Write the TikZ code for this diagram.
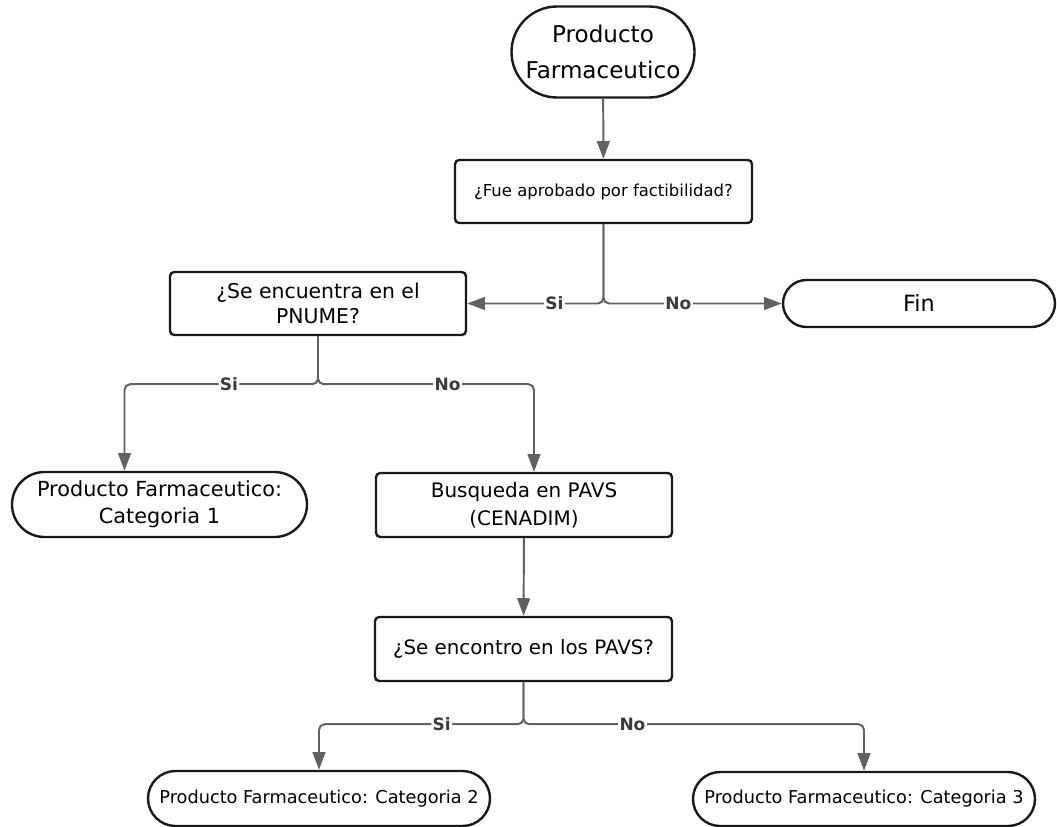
\documentclass[tikz,border=0pt]{standalone}
\usepackage{fontspec}
\setmainfont{DejaVu Sans}
\usetikzlibrary{shapes.misc, arrows.meta, positioning, calc}
\definecolor{line_gray}{RGB}{97, 97, 97}
\definecolor{edge_black}{RGB}{25, 25, 25}
\def \pu {0.025cm}

\begin{document}
\begin{tikzpicture}[
    x=0.025cm, y=-0.025cm,
    terminal/.style 2 args={
        rounded rectangle,
        draw=edge_black,
        fill=white,
        line width=1.7pt,
        minimum width=#1*\pu,
        minimum height=#2*\pu,
        inner sep=0pt,
        align=center
    },
    process/.style 2 args={
        rectangle,
        draw=edge_black,
        fill=white,
        line width=1.7pt,
        rounded corners=3pt,
        minimum width=#1*\pu,
        minimum height=#2*\pu,
        inner sep=0pt,
        align=center
    },
    arrow/.style={
        -{Triangle[length=12.5pt, width=9pt]},
        line width=1.4pt,
        draw=line_gray,
        rounded corners=4pt
    },
    answer/.style={
        fill=white,
        inner sep=1pt,
        text=edge_black!85,
        font=\fontsize{12.1}{14}\selectfont\bfseries
    },
]
\useasboundingbox (0,0) rectangle (1057,827);

\node[terminal={183}{91}, font=\fontsize{16.4}{25.6}\selectfont] (start) at (603,52) {Producto\\Farmaceutico};

\node[process={297}{63}, font=\fontsize{11.7}{14}\selectfont] (fue) at (603.5,191.5) {¿Fue aprobado por factibilidad?};

\node[process={296}{63}, font=\fontsize{14.5}{17.8}\selectfont] (pnume) at (318,303.5) {¿Se encuentra en el\\PNUME?};
\node[terminal={272}{47}, font=\fontsize{15.9}{19}\selectfont] (fin) at (919,303.5) {Fin};

\node[terminal={295}{65}, font=\fontsize{14.8}{19.2}\selectfont] (cat1) at (159.5,504.5) {Producto Farmaceutico:\\Categoria 1};
\node[process={296}{64}, font=\fontsize{14.2}{20}\selectfont] (busq) at (524,505) {Busqueda en PAVS\\(CENADIM)};

\node[process={297}{64}, font=\fontsize{14.1}{17}\selectfont] (enc) at (523.5,649) {¿Se encontro en los PAVS?};

\node[terminal={342}{55}, font=\fontsize{12.6}{15}\selectfont] (cat2) at (319,798.5) {Producto Farmaceutico: Categoria 2};
\node[terminal={342}{54}, font=\fontsize{12.6}{15}\selectfont] (cat3) at (864,799) {Producto Farmaceutico: Categoria 3};

% first decision
\draw[arrow] (start) -- (fue);
\draw[arrow] (fue.south) |- node[answer, pos=0.68] {Si} (pnume.east);
\draw[arrow] (fue.south) |- node[answer, pos=0.71] {No} (fin.west);

% PNUME branches
\draw[arrow] (pnume.south) -- ++(0,48) -| node[answer, pos=0.23] {Si} ($(cat1.north)+(-35,0)$);
\draw[arrow] (pnume.south) -- ++(0,48) -| node[answer, pos=0.3] {No} ($(busq.north)+(10,0)$);

% PAVS search
\draw[arrow] (busq) -- (enc);
\draw[arrow] (enc.south) -- ++(0,42) -| node[answer, pos=0.2] {Si} (cat2.north);
\draw[arrow] (enc.south) -- ++(0,42) -| node[answer, pos=0.16] {No} (cat3.north);

\end{tikzpicture}
\end{document}
